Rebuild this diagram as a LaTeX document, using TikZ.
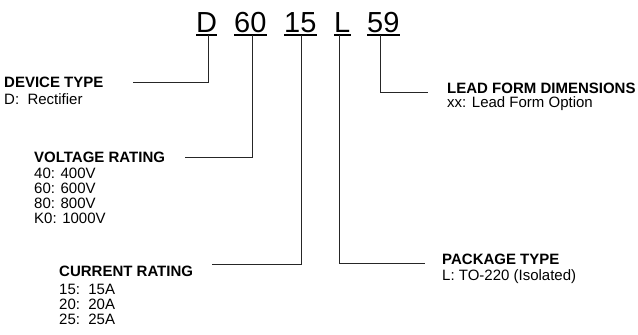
\documentclass[tikz,border=0pt]{standalone}
\usepackage{fontspec}
\setmainfont{Liberation Sans}

\begin{document}
\begin{tikzpicture}[x=1pt,y=-1pt,
  code/.style={anchor=base west,inner xsep=0pt,inner ysep=2.5pt,text depth=0pt,
    font=\fontsize{29}{30}\selectfont},
  lbl/.style={anchor=north west,inner sep=0pt,align=left,
    font=\fontsize{15}{15}\selectfont},
  leader/.style={black!85,line width=0.9pt}]
  \useasboundingbox (0,0) rectangle (638,335);
  % part number with underlines
  \foreach \nm/\txt/\xx in {d/D/196,v/60/234,c/15/284,p/L/334,f/59/367} {
    \node[code] (\nm) at (\xx,32.5) {\txt};
    \draw[line width=2pt] (\nm.south west) -- (\nm.south east);
  }
  % descriptions
  \node[lbl] (devtype) at (4,77.3) {\textbf{DEVICE TYPE}\\[2pt] D:\ \ Rectifier};
  \node[lbl] (volt) at (34,152.3) {\textbf{VOLTAGE RATING}\\[1pt] 40: 400V\\ 60: 600V\\ 80: 800V\\ K0: 1000V};
  \node[lbl] (curr) at (59,266.3) {\textbf{CURRENT RATING}\\[3pt] 15:\ \ 15A\\ 20:\ \ 20A\\ 25:\ \ 25A};
  \node[lbl] (pkg) at (442,253.6) {\textbf{PACKAGE TYPE}\\[1pt] L: TO-220 (Isolated)};
  \node[lbl] (lead) at (447,83.3) {\textbf{LEAD FORM DIMENSIONS}\\[-1pt] xx: Lead Form Option};
  % leader lines
  \coordinate (dEnd) at (133,82);
  \coordinate (vEnd) at (185,157);
  \coordinate (cEnd) at (212,264);
  \coordinate (pEnd) at (425,263);
  \coordinate (fEnd) at (428,92);
  \draw[leader] ([xshift=1.5pt]d.south) |- (dEnd);
  \draw[leader] ([xshift=2.5pt]v.south) |- (vEnd);
  \draw[leader] ([xshift=1.5pt]c.south) |- (cEnd);
  \draw[leader] ([xshift=-3pt]p.south) |- (pEnd);
  \draw[leader] ([xshift=-3pt]f.south) |- (fEnd);
\end{tikzpicture}
\end{document}
